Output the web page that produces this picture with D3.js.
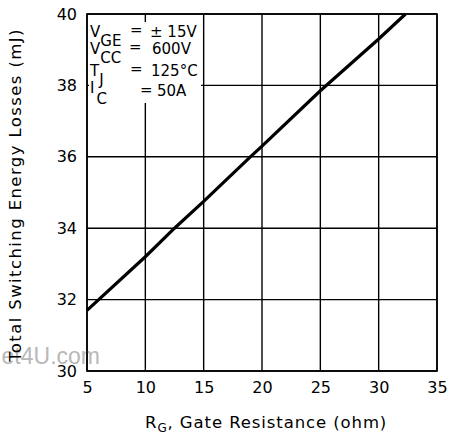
<!DOCTYPE html>
<html>
<head>
<meta charset="utf-8">
<script src="https://cdn.jsdelivr.net/npm/d3@7"></script>
<style>
  html, body { margin: 0; padding: 0; background: #fff; }
  svg { display: block; }
  text { font-family: "DejaVu Sans", sans-serif; fill: #000; }
</style>
</head>
<body>
<svg id="chart" width="450" height="436"></svg>
<script>
// Gate resistance (ohm) and total switching energy losses (mJ)
const gateResistance = [5, 10, 12.5, 15, 19, 20, 25, 30, 32.3];
const switchingLoss  = [31.7, 33.2, 34.0, 34.75, 36.0, 36.3, 37.85, 39.3, 40.0];

const xTicks = [5, 10, 15, 20, 25, 30, 35];
const yTicks = [30, 32, 34, 36, 38, 40];

// Test conditions: symbol, subscript, value
const condSymbols    = ["V", "V", "T", "I"];
const condSubscripts = ["GE", "CC", "J", "C"];
const condValues     = ["\u00b1 15V", "600V", "125\u00b0C", "50A"];

const svg = d3.select("#chart");
const margin = { left: 87, right: 13, top: 14, bottom: 65 };
const W = 450, H = 436;

const x = d3.scaleLinear().domain([5, 35]).range([margin.left, W - margin.right]);
const y = d3.scaleLinear().domain([30, 40]).range([H - margin.bottom, margin.top]);

// grid lines
const grid = svg.append("g").attr("stroke", "#000").attr("stroke-width", 1.4);
grid.selectAll("line.v").data(xTicks).join("line")
  .attr("x1", d => x(d)).attr("x2", d => x(d))
  .attr("y1", y(30)).attr("y2", y(40));
grid.selectAll("line.h").data(yTicks).join("line")
  .attr("x1", x(5)).attr("x2", x(35))
  .attr("y1", d => y(d)).attr("y2", d => y(d));

// axes (labels only; the grid carries the lines)
const xAxis = svg.append("g")
  .attr("transform", `translate(0,${y(30)})`)
  .call(d3.axisBottom(x).tickValues(xTicks).tickSize(0).tickPadding(11));
const yAxis = svg.append("g")
  .attr("transform", `translate(${x(5)},0)`)
  .call(d3.axisLeft(y).tickValues(yTicks).tickSize(0).tickPadding(10));
[xAxis, yAxis].forEach(a => {
  a.select(".domain").remove();
  a.selectAll("text").attr("font-size", 16).attr("font-family", "DejaVu Sans, sans-serif");
});

// watermark
svg.append("text")
  .attr("x", 100).attr("y", 364)
  .attr("text-anchor", "end")
  .attr("font-size", 23)
  .style("font-family", "Liberation Sans, Arial, sans-serif")
  .style("fill", "#b8b8b8")
  .text("et4U.com");

// y axis title
svg.append("text")
  .attr("transform", `translate(21,195) rotate(-90)`)
  .attr("text-anchor", "middle")
  .attr("font-size", 16.5)
  .attr("letter-spacing", 1.4)
  .text("Total Switching Energy Losses (mJ)");

// x axis title
const xt = svg.append("text")
  .attr("x", 145).attr("y", 428)
  .attr("font-size", 16.5)
  .attr("letter-spacing", 0.9);
xt.append("tspan").text("R");
xt.append("tspan").attr("font-size", 12).attr("dy", 4).text("G");
xt.append("tspan").attr("dy", -4).text(", Gate Resistance (ohm)");

// white panel behind the test conditions
svg.append("rect")
  .attr("x", 89).attr("y", 22)
  .attr("width", 112).attr("height", 81)
  .attr("fill", "#fff");

const condBaselines = [37, 54, 76, 93];
const eqX = [130, 129, 130, 140];
const valX = [150, 152, 151, 157];
const cond = svg.append("g").attr("font-size", 15);
condSymbols.forEach((s, i) => {
  const yy = condBaselines[i];
  const t = cond.append("text").attr("x", 90).attr("y", yy);
  t.append("tspan").text(s);
  t.append("tspan").attr("dx", i === 3 ? 2 : 0).attr("dy", i === 3 ? 11 : 9).text(condSubscripts[i]);
  cond.append("text").attr("x", eqX[i]).attr("y", i === 3 ? yy + 2 : yy - 2).text("=");
  cond.append("text").attr("x", valX[i]).attr("y", i === 3 ? yy + 3 : yy).text(condValues[i]);
});

// frame
svg.append("rect")
  .attr("x", x(5)).attr("y", y(40))
  .attr("width", x(35) - x(5)).attr("height", y(30) - y(40))
  .attr("fill", "none").attr("stroke", "#000").attr("stroke-width", 1.6);

// loss curve
svg.append("path")
  .datum(gateResistance.map((r, i) => [r, switchingLoss[i]]))
  .attr("fill", "none")
  .attr("stroke", "#000")
  .attr("stroke-width", 3.2)
  .attr("d", d3.line().x(d => x(d[0])).y(d => y(d[1])));
</script>
</body>
</html>
